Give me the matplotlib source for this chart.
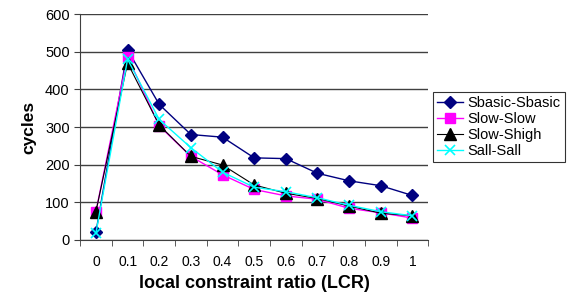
import matplotlib
matplotlib.use("Agg")
import matplotlib.pyplot as plt
import numpy as np

categories = ["0", "0.1", "0.2", "0.3", "0.4", "0.5", "0.6", "0.7", "0.8", "0.9", "1"]
sbasic = [20, 505, 360, 280, 273, 218, 216, 177, 157, 144, 118]
slow_slow = [75, 487, 303, 222, 173, 134, 117, 108, 84, 72, 58]
slow_shigh = [75, 470, 305, 222, 199, 146, 124, 110, 90, 71, 64]
sall_sall = [18, 480, 320, 245, 180, 140, 128, 112, 92, 75, 64]

plt.rcParams['font.family'] = ['Liberation Sans', 'DejaVu Sans']

fig = plt.figure(figsize=(5.68, 2.94), dpi=100)
ax = fig.add_axes([0.141, 0.184, 0.613, 0.768])

x = np.arange(len(categories))
ax.plot(x, sbasic, color='#000080', marker='D', markersize=6, lw=1, label='Sbasic-Sbasic')
ax.plot(x, slow_slow, color='#FF00FF', marker='s', markersize=7, lw=1, label='Slow-Slow')
ax.plot(x, slow_shigh, color='black', marker='^', markersize=8, lw=0.8, label='Slow-Shigh')
ax.plot(x, sall_sall, color='#00FFFF', marker='x', markersize=7, mew=1.2, lw=1, label='Sall-Sall')

ax.set_xlim(-0.5, len(categories) - 0.5)
ax.set_ylim(0, 600)
ax.set_yticks(range(0, 601, 100))
ax.yaxis.grid(True, color='#404040', lw=1)
ax.set_axisbelow(True)
ax.set_xticks(x)
ax.set_xticklabels(categories, fontsize=10)
ax.tick_params(axis='x', which='major', length=0, pad=11)
ax.set_xticks(np.arange(-0.5, len(categories), 1), minor=True)
ax.tick_params(axis='x', which='minor', length=4, direction='out', color='#404040')
ax.tick_params(axis='y', labelsize=10.5, length=4, direction='out', color='#404040')
for s in ['top', 'right']:
    ax.spines[s].set_visible(False)
ax.spines['left'].set_color('#404040')
ax.spines['bottom'].set_color('#404040')

ax.set_xlabel('local constraint ratio (LCR)', fontsize=13, fontweight='bold', labelpad=4)
ax.set_ylabel('cycles', fontsize=12.5, fontweight='bold', labelpad=6)

leg = ax.legend(loc='center left', bbox_to_anchor=(1.015, 0.5), fontsize=10.5, frameon=True,
                fancybox=False, edgecolor='black', handlelength=1.8, borderpad=0.25,
                labelspacing=0.15, handletextpad=0.3, borderaxespad=0)
leg.get_frame().set_linewidth(0.8)

fig.savefig('out.png', dpi=100)
